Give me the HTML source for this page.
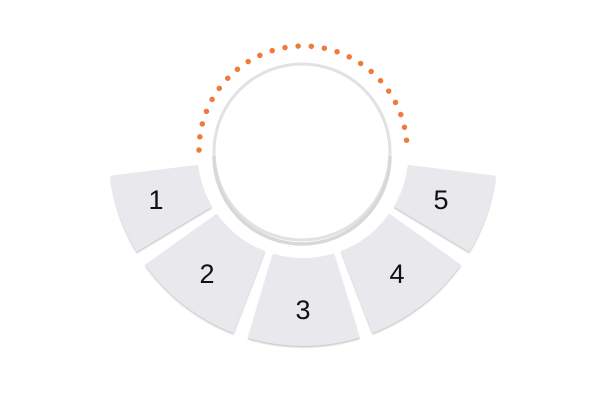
<!DOCTYPE html>
<html><head><style>html,body{margin:0;padding:0;background:#fff;}</style></head>
<body>
<svg width="600" height="400" viewBox="0 0 600 400" xmlns="http://www.w3.org/2000/svg">
<defs>
<filter id="sh" x="-20%" y="-20%" width="140%" height="140%"><feDropShadow dx="0" dy="1.5" stdDeviation="0.8" flood-color="#bbb" flood-opacity="0.8"/></filter>
</defs>
<g id="segs" fill="#e9e9ed" filter="url(#sh)"></g>
<circle cx="302" cy="152" r="88" fill="#fff" stroke="#e2e2e4" stroke-width="3"/>
<path d="M214,156 A88,88 0 0 0 390,156" fill="none" stroke="#d8d8da" stroke-width="3.5"/>
<path id="dots" d="M199,150 A104,104 0 0 1 407,150" fill="none" stroke="#f07a3c" stroke-width="5.5" stroke-linecap="round" stroke-dasharray="0 13.2"/>
<g font-family="Liberation Sans, sans-serif" font-size="27" fill="#111" text-anchor="middle">
<text x="156" y="209">1</text>
<text x="207" y="283">2</text>
<text x="303" y="319">3</text>
<text x="397" y="283">4</text>
<text x="441" y="209">5</text>
</g>
<script>
var cx=303,cy=152,ri=106,ro=194;
var a=[[149,173],[111,144.5],[73,106.5],[35.5,69],[7,31]];
var g=document.getElementById('segs');
function p(r,d){var t=d*Math.PI/180;return (cx+r*Math.cos(t)).toFixed(1)+','+(cy+r*Math.sin(t)).toFixed(1);}
a.forEach(function(s){
var d='M'+p(ri,s[0])+' L'+p(ro,s[0])+' A'+ro+','+ro+' 0 0 1 '+p(ro,s[1])+' L'+p(ri,s[1])+' A'+ri+','+ri+' 0 0 0 '+p(ri,s[0])+'Z';
var e=document.createElementNS('http://www.w3.org/2000/svg','path');e.setAttribute('d',d);g.appendChild(e);});
</script>
</svg>
</body></html>
